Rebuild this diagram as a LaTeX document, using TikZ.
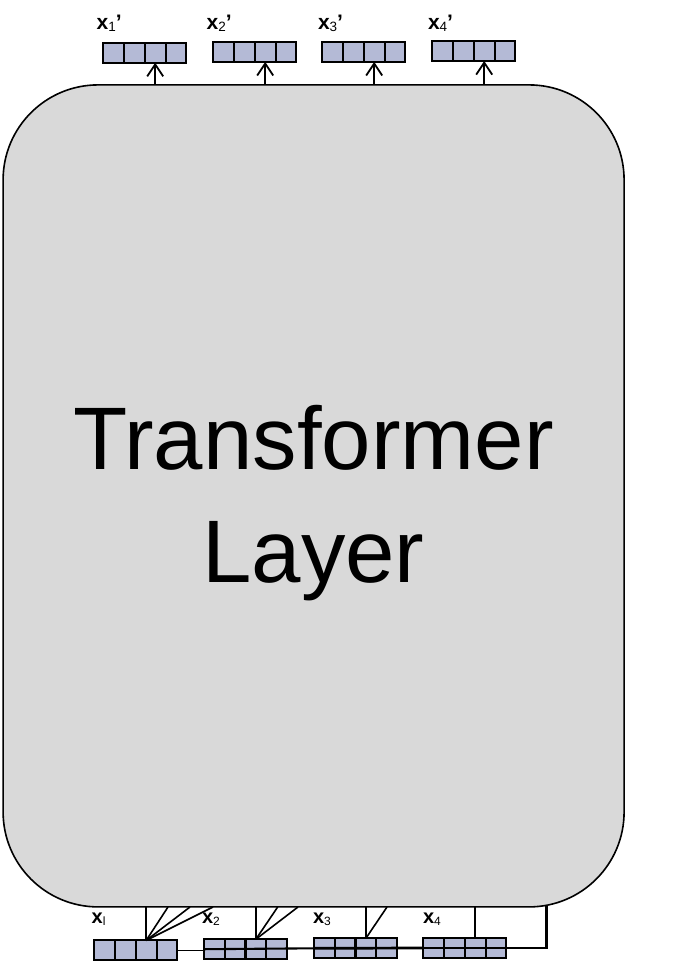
\documentclass[tikz,border=0pt]{standalone}
\usepackage{fontspec}
\setmainfont{Liberation Sans}
\usepackage{tikz}
\usetikzlibrary{arrows.meta}
\usetikzlibrary{positioning}
\definecolor{cellblue}{HTML}{B4BAD6}
\definecolor{layergray}{HTML}{D9D9D9}

\newcommand{\outlab}[1]{\textbf{x}\raisebox{-2.7pt}{\fontsize{13.5}{13.5}\selectfont #1}\textbf{’}}
\newcommand{\inlab}[1]{\textbf{x}\raisebox{-1.7pt}{\fontsize{12}{12}\selectfont #1}}

\begin{document}
\begin{tikzpicture}[x=1pt,y=-1pt,every node/.style={inner sep=0pt,outer sep=0pt},
  cell/.style={draw,line width=2.1pt,fill=cellblue,minimum width=20.75pt,minimum height=20pt},
  tlayer/.style={draw,line width=1.6pt,fill=layergray,rounded corners=95pt,minimum width=621pt,minimum height=822pt},
  outarrow/.style={line width=1.8pt,-{Straight Barb[length=12pt,width=16pt]}},
  wire/.style={line width=1.6pt},
  outtext/.style={anchor=base west,font=\fontsize{21}{21}\selectfont},
  intext/.style={anchor=base west,font=\fontsize{20}{20}\selectfont}]

  \useasboundingbox (0,0) rectangle (693,962);

  % layer
  \node[tlayer] (tl) at (313.6,495.9) {};
  \node[font=\fontsize{88.8}{113}\selectfont,align=center] (tltext) at (313.5,503) {Transformer\\Layer};

  % outputs
  \begin{scope}
    % x1'
    \node[cell] (o1a) at (113.7,52.7) {};
    \node[cell,right=0pt of o1a] (o1b) {};
    \node[cell,right=0pt of o1b] (o1c) {};
    \node[cell,right=0pt of o1c] (o1d) {};
    \node[outtext] (o1l) at (96.7,29) {\outlab{1}};
    \draw[outarrow] (tl.north -| o1c.south) -- (o1c.south);

    % x2'
    \node[cell] (o2a) at (223.7,51.9) {};
    \node[cell,right=0pt of o2a] (o2b) {};
    \node[cell,right=0pt of o2b] (o2c) {};
    \node[cell,right=0pt of o2c] (o2d) {};
    \node[outtext] (o2l) at (206.7,29) {\outlab{2}};
    \draw[outarrow] (tl.north -| o2c.south) -- (o2c.south);

    % x3'
    \node[cell] (o3a) at (332.7,51.9) {};
    \node[cell,right=0pt of o3a] (o3b) {};
    \node[cell,right=0pt of o3b] (o3c) {};
    \node[cell,right=0pt of o3c] (o3d) {};
    \node[outtext] (o3l) at (318,29) {\outlab{3}};
    \draw[outarrow] (tl.north -| o3c.south) -- (o3c.south);

    % x4'
    \node[cell] (o4a) at (442.7,51) {};
    \node[cell,right=0pt of o4a] (o4b) {};
    \node[cell,right=0pt of o4b] (o4c) {};
    \node[cell,right=0pt of o4c] (o4d) {};
    \node[outtext] (o4l) at (428,29) {\outlab{4}};
    \draw[outarrow] (tl.north -| o4c.south) -- (o4c.south);
  \end{scope}

  % inputs
  \begin{scope}
    % ends on the layer
    \coordinate (k12) at (168,907);
    \coordinate (k13) at (190,907);
    \coordinate (k14) at (213,907);
    \coordinate (k22) at (277.7,907);
    \coordinate (k23) at (298,907);
    \coordinate (k32) at (387,907);
    \coordinate (res) at (546.5,905.5);

    % x1
    \node[cell] (i1a) at (104.7,950.4) {};
    \node[cell,right=0pt of i1a] (i1b) {};
    \node[cell,right=0pt of i1b] (i1c) {};
    \node[cell,right=0pt of i1c] (i1d) {};
    \node[intext] (i1l) at (91.7,923.3) {\inlab{l}};
    \draw[wire] (i1c.north) -- (tl.south -| i1c.north);
    \draw[wire] (i1c.north) -- (k12);
    \draw[wire] (i1c.north) -- (k13);
    \draw[wire] (i1c.north) -- (k14);

    % x2
    \node[cell] (i2a) at (214.4,949.2) {};
    \node[cell,right=0pt of i2a] (i2b) {};
    \node[cell,right=0pt of i2b] (i2c) {};
    \node[cell,right=0pt of i2c] (i2d) {};
    \node[intext] (i2l) at (202,923.3) {\inlab{2}};
    \draw[wire] (i2c.north) -- (tl.south -| i2c.north);
    \draw[wire] (i2c.north) -- (k22);
    \draw[wire] (i2c.north) -- (k23);

    % x3
    \node[cell] (i3a) at (324.4,948.3) {};
    \node[cell,right=0pt of i3a] (i3b) {};
    \node[cell,right=0pt of i3b] (i3c) {};
    \node[cell,right=0pt of i3c] (i3d) {};
    \node[intext] (i3l) at (313,923.3) {\inlab{3}};
    \draw[wire] (i3c.north) -- (tl.south -| i3c.north);
    \draw[wire] (i3c.north) -- (k32);

    % x4
    \node[cell] (i4a) at (433.7,948) {};
    \node[cell,right=0pt of i4a] (i4b) {};
    \node[cell,right=0pt of i4b] (i4c) {};
    \node[cell,right=0pt of i4c] (i4d) {};
    \node[intext] (i4l) at (423,923.3) {\inlab{4}};
    \draw[wire] (i4c.north) -- (tl.south -| i4c.north);

    % chain
    \draw[line width=1.5pt] (i1d.east) -- (i1d.east -| i2a.west);
    \draw[line width=2.1pt] (i2a.west) -- (i3a.west);
    \draw[line width=2.7pt] (i3a.west) -- (i4a.west);
    \draw[line width=2.9pt] (i4a.west) -- (i4d.east) -| (res);
  \end{scope}

\end{tikzpicture}
\end{document}
